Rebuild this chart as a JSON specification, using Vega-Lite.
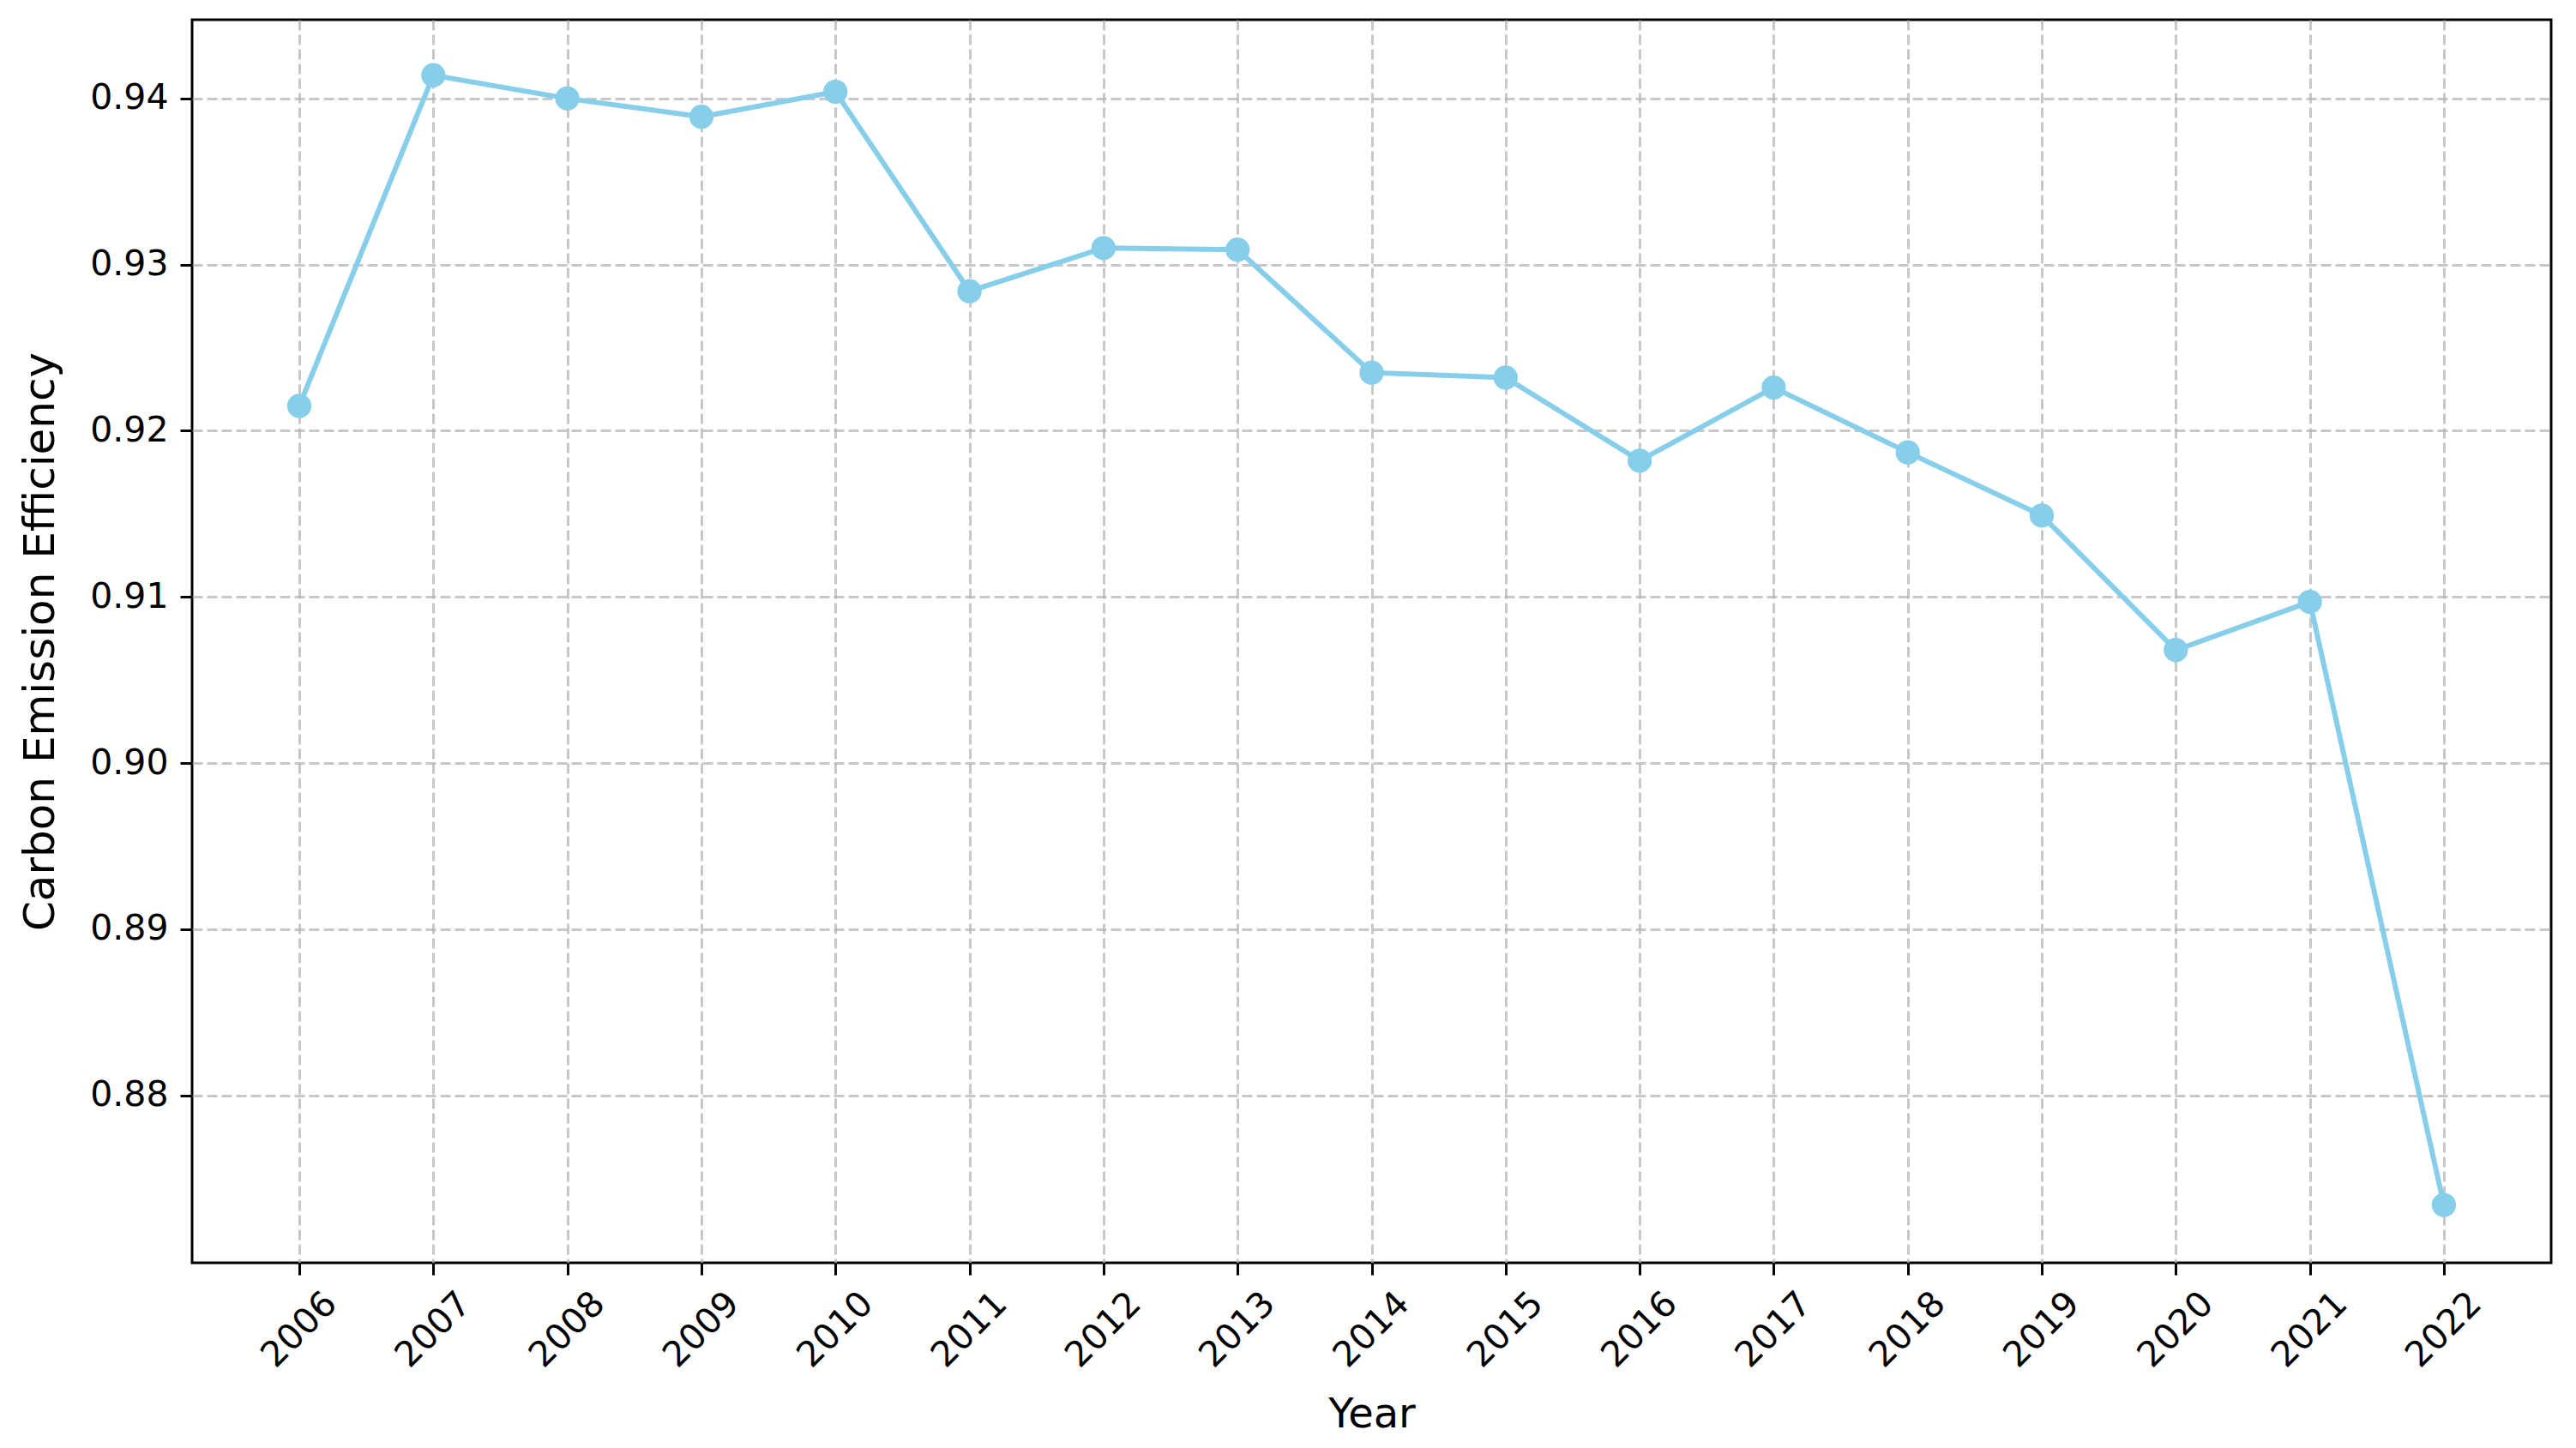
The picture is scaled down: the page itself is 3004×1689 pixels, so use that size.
{
  "$schema": "https://vega.github.io/schema/vega-lite/v6.json",
  "autosize": {"type": "none"},
  "width": 2751,
  "height": 1450,
  "padding": {"left": 224, "top": 23, "right": 29, "bottom": 216},
  "background": "white",
  "config": {
    "font": "DejaVu Sans",
    "view": {"stroke": "black", "strokeWidth": 3},
    "axis": {
      "domain": false,
      "ticks": true,
      "tickColor": "black",
      "tickWidth": 3,
      "tickSize": 14,
      "labelFont": "DejaVu Sans",
      "labelFontSize": 41,
      "labelColor": "black",
      "titleFont": "DejaVu Sans",
      "titleFontSize": 48,
      "titleFontWeight": "normal",
      "titleColor": "black",
      "grid": true,
      "gridColor": "#b0b0b0",
      "gridOpacity": 0.7,
      "gridWidth": 3,
      "gridDash": [12, 5]
    }
  },
  "data": {
    "values": [
      {"Year": 2006, "Efficiency": 0.9215},
      {"Year": 2007, "Efficiency": 0.9414},
      {"Year": 2008, "Efficiency": 0.9400},
      {"Year": 2009, "Efficiency": 0.9389},
      {"Year": 2010, "Efficiency": 0.9404},
      {"Year": 2011, "Efficiency": 0.9284},
      {"Year": 2012, "Efficiency": 0.9310},
      {"Year": 2013, "Efficiency": 0.9309},
      {"Year": 2014, "Efficiency": 0.9235},
      {"Year": 2015, "Efficiency": 0.9232},
      {"Year": 2016, "Efficiency": 0.9182},
      {"Year": 2017, "Efficiency": 0.9226},
      {"Year": 2018, "Efficiency": 0.9187},
      {"Year": 2019, "Efficiency": 0.9149},
      {"Year": 2020, "Efficiency": 0.9068},
      {"Year": 2021, "Efficiency": 0.9097},
      {"Year": 2022, "Efficiency": 0.8734}
    ]
  },
  "encoding": {
    "x": {
      "field": "Year",
      "type": "quantitative",
      "scale": {"domain": [2005.2, 2022.8], "nice": false, "zero": false},
      "axis": {
        "title": "Year",
        "values": [2006, 2007, 2008, 2009, 2010, 2011, 2012, 2013, 2014, 2015, 2016, 2017, 2018, 2019, 2020, 2021, 2022],
        "format": "d",
        "labelAngle": -45,
        "labelAlign": "center",
        "labelBaseline": "middle",
        "labelPadding": 64,
        "titlePadding": 24,
        "labelFlush": false,
        "labelOverlap": false
      }
    },
    "y": {
      "field": "Efficiency",
      "type": "quantitative",
      "scale": {"domain": [0.86992, 0.94474], "nice": false, "zero": false},
      "axis": {
        "title": "Carbon Emission Efficiency",
        "titleFontSize": 50,
        "values": [0.88, 0.89, 0.90, 0.91, 0.92, 0.93, 0.94],
        "format": ".2f",
        "labelPadding": 14,
        "titlePadding": 32,
        "labelFlush": false,
        "labelOverlap": false
      }
    }
  },
  "layer": [
    {"mark": {"type": "line", "color": "#87CEEB", "strokeWidth": 6}},
    {"mark": {"type": "point", "filled": true, "color": "#87CEEB", "opacity": 1, "size": 800, "shape": "circle"}}
  ]
}
